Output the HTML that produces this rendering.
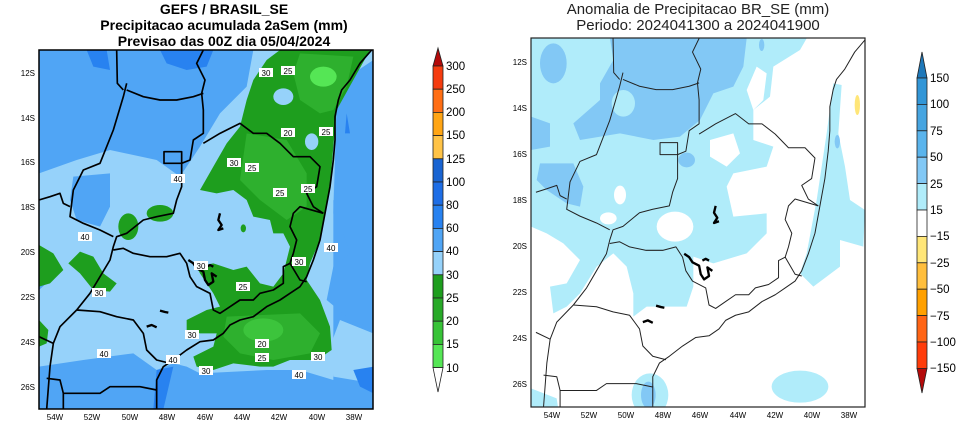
<!DOCTYPE html>
<html><head><meta charset="utf-8"><style>
body{margin:0;background:#fff;width:963px;height:431px;overflow:hidden}
svg{display:block}
text{font-family:"Liberation Sans",sans-serif}
.t{font-size:14px;font-weight:bold;fill:#000}
.tr{font-size:15px;fill:#222}
.tk{font-size:8px;fill:#000}
.cb{font-size:11.5px;fill:#000}
.lb{font-size:8px;fill:#000}
</style></head><body>
<svg width="963" height="431" viewBox="0 0 963 431" xmlns="http://www.w3.org/2000/svg">
<defs>
<clipPath id="cl"><rect x="39" y="50" width="334" height="359"/></clipPath>
<clipPath id="cr"><rect x="531" y="38" width="334" height="369"/></clipPath>
<g id="borders">
<polyline points="1115,150 1080,190 1050,240 1025,270 1015,300 1005,350 1005,420 1000,480 990,560 975,640 960,720 940,780 920,830 900,860 870,880 840,900 800,920 760,950 720,960 690,975 670,1000 640,1020 600,1025 560,1050 520,1080 490,1100 470,1140 470,1228"/>
<polyline points="610,150 590,190 615,240 605,280 610,330 610,400 580,420 570,480 545,490 545,560 530,600 520,640 470,650 430,660 380,700 350,710 340,740 330,780 300,830 270,880 230,930"/>
<polyline points="380,250 370,290 340,390 300,490 250,510 220,570 210,650 250,670 300,690 340,710"/>
<polyline points="117,600 150,590 180,580 190,610 210,620"/>
<polyline points="380,270 430,290 480,300 530,300 580,290 610,280"/>
<polyline points="350,150 352,250 370,270"/>
<polyline points="610,430 660,400 720,370 760,400 800,400 840,430 880,470 930,470 960,500 950,560 920,580 940,620 970,640"/>
<polyline points="970,640 900,620 880,640 870,680 890,720 880,760 870,790 850,800 850,850 820,870 780,880 760,900 720,900 690,920 660,940 640,930 630,880 590,860 570,830 560,790 540,760 500,770 450,770 400,760 370,745 340,750"/>
<polyline points="870,790 900,840 920,845"/>
<polyline points="230,930 300,935 350,950 400,960 430,1000 440,1050 470,1080 510,1090"/>
<polyline points="230,930 180,980 160,1030 150,1100 140,1228"/>
<polyline points="117,1010 160,1030"/>
<polyline points="140,1135 180,1140 190,1180 190,1228"/>
<polyline points="190,1180 300,1180 330,1160 420,1160 470,1170"/>
<polygon points="492,455 545,455 545,490 492,490"/>
</g>
<g id="lakes" fill="none" stroke="#000" stroke-width="7" stroke-linejoin="round">
<polyline points="660,640 655,660 665,675 655,690 670,685"/>
<polyline points="565,780 580,790 590,805 610,815 615,840 625,855 640,845 635,820 650,830"/>
<polyline points="620,800 630,795 640,800"/>
<polyline points="480,932 495,936 505,938"/>
<polyline points="440,980 455,975 470,982"/>
</g>
</defs>

<text class="t" x="224" y="14" text-anchor="middle">GEFS / BRASIL_SE</text>
<text class="t" x="224" y="30" text-anchor="middle">Precipitacao acumulada 2aSem (mm)</text>
<text class="t" x="224" y="46" text-anchor="middle">Previsao das 00Z dia 05/04/2024</text>

<g clip-path="url(#cl)">
<rect x="39" y="50" width="334" height="359" fill="#50a5f5"/>
<g transform="scale(0.33333)">
<path d="M480,150 L640,150 L620,200 L560,210 L500,190Z" fill="#2882f0"/>
<path d="M260,150 L320,150 L330,210 L280,200Z" fill="#2882f0"/>
<path d="M117,520 L230,480 L330,450 L470,480 L540,530 L600,440 L660,340 L740,260 L760,150 L1000,150 L1000,1140 L900,1110 L800,1110 L600,1120 L560,1100 L520,1090 L470,1110 L400,1060 L250,1080 L117,1100 L117,870 L150,840 L117,780Z" fill="#96d2fa"/>
<path d="M220,530 L330,520 L330,620 L300,680 L230,660 L210,600Z" fill="#50a5f5"/>
<path d="M940,150 L1120,150 L1120,1150 L1000,1130 L990,1040 L1020,960 L1120,1000 L1120,600 L1040,620 L1000,600 L1000,300Z" fill="#96d2fa"/>
<path d="M1010,300 L1060,220 L1120,180 L1120,990 L1040,950 L980,900 L1000,800 L1050,760 L1030,700 L1000,640Z" fill="#50a5f5"/>
<path d="M1040,340 L1050,400 L1035,400Z" fill="#2882f0"/>
<path d="M1060,1110 L1120,1100 L1120,1180 L1080,1160Z" fill="#2882f0"/>
<path d="M470,1110 L520,1100 L490,1228 L460,1228Z" fill="#2882f0"/>
<path d="M840,150 L1110,150 L1060,240 L1010,330 L1000,440 L990,560 L975,640 L960,720 L930,790 L920,840 L960,900 L990,980 L995,1050 L950,1080 L870,1080 L820,1100 L780,1100 L700,1090 L640,1110 L590,1100 L580,1070 L640,1040 L650,1000 L600,1000 L560,990 L560,960 L620,930 L660,920 L640,880 L600,820 L590,800 L640,790 L700,810 L740,800 L780,850 L820,860 L850,820 L870,740 L850,700 L820,700 L810,660 L760,650 L740,600 L700,570 L650,580 L600,570 L640,500 L680,430 L720,380 L740,300 L760,240 L800,180Z" fill="#1e9e1e"/>
<path d="M900,160 L1060,170 L1040,260 L1000,330 L960,340 L900,300 L880,220Z" fill="#2eb02e"/>
<ellipse cx="970" cy="230" rx="40" ry="30" fill="#55e655"/>
<path d="M740,400 L860,420 L920,520 L920,620 L860,660 L780,600 L720,540Z" fill="#2eb02e"/>
<path d="M680,950 L900,940 L960,1000 L930,1060 L820,1080 L720,1060 L670,1010Z" fill="#2eb02e"/>
<ellipse cx="790" cy="990" rx="60" ry="35" fill="#3cc43c"/>
<ellipse cx="850" cy="290" rx="30" ry="25" fill="#96d2fa"/>
<ellipse cx="935" cy="425" rx="20" ry="25" fill="#96d2fa"/>
<ellipse cx="760" cy="740" rx="15" ry="30" fill="#96d2fa"/>
<ellipse cx="480" cy="640" rx="40" ry="25" fill="#1e9e1e"/>
<ellipse cx="385" cy="680" rx="30" ry="40" fill="#1e9e1e"/>
<path d="M205,790 L240,755 L280,770 L310,820 L350,850 L330,875 L280,870 L240,820Z" fill="#1e9e1e"/>
<path d="M117,735 L160,760 L190,810 L150,850 L117,860Z" fill="#1e9e1e"/>
<path d="M117,960 L145,990 L140,1030 L117,1040Z" fill="#1e9e1e"/>
<ellipse cx="730" cy="685" rx="8" ry="12" fill="#1e9e1e"/>
<use href="#borders" fill="none" stroke="#000" stroke-width="5" stroke-linejoin="round"/>
<use href="#lakes"/>
</g>
</g>
<rect x="39" y="50" width="334" height="359" fill="none" stroke="#000" stroke-width="1.5"/>
<g class="lb" text-anchor="middle">
<g fill="#fff"><rect x="259" y="68" width="14" height="9"/><rect x="281" y="66" width="14" height="9"/><rect x="281" y="128" width="14" height="9"/><rect x="319" y="127" width="14" height="9"/><rect x="227" y="158" width="14" height="9"/><rect x="245" y="163" width="14" height="9"/><rect x="171" y="174" width="14" height="9"/><rect x="273" y="188" width="14" height="9"/><rect x="301" y="184" width="14" height="9"/><rect x="78" y="232" width="14" height="9"/><rect x="324" y="243" width="14" height="9"/><rect x="194" y="261" width="14" height="9"/><rect x="292" y="257" width="14" height="9"/><rect x="236" y="282" width="14" height="9"/><rect x="92" y="288" width="14" height="9"/><rect x="185" y="330" width="14" height="9"/><rect x="255" y="339" width="14" height="9"/><rect x="97" y="349" width="14" height="9"/><rect x="255" y="353" width="14" height="9"/><rect x="166" y="355" width="14" height="9"/><rect x="311" y="352" width="14" height="9"/><rect x="199" y="366" width="14" height="9"/><rect x="292" y="370" width="14" height="9"/></g>
<text x="266" y="76">30</text><text x="288" y="74">25</text><text x="288" y="136">20</text><text x="326" y="135">25</text><text x="234" y="166">30</text><text x="252" y="171">25</text><text x="178" y="182">40</text><text x="280" y="196">25</text><text x="308" y="192">25</text><text x="85" y="240">40</text><text x="331" y="251">40</text><text x="201" y="269">30</text><text x="299" y="265">30</text><text x="243" y="290">25</text><text x="99" y="296">30</text><text x="192" y="338">30</text><text x="262" y="347">20</text><text x="104" y="357">40</text><text x="262" y="361">25</text><text x="173" y="363">40</text><text x="318" y="360">30</text><text x="206" y="374">30</text><text x="299" y="378">40</text>
</g>
<g class="tk" text-anchor="end">
<text x="35" y="76">12S</text><text x="35" y="121">14S</text><text x="35" y="165">16S</text><text x="35" y="210">18S</text><text x="35" y="255">20S</text><text x="35" y="300">22S</text><text x="35" y="345">24S</text><text x="35" y="390">26S</text>
</g>
<g class="tk" text-anchor="middle">
<text x="55" y="420">54W</text><text x="92" y="420">52W</text><text x="130" y="420">50W</text><text x="167" y="420">48W</text><text x="205" y="420">46W</text><text x="242" y="420">44W</text><text x="279" y="420">42W</text><text x="317" y="420">40W</text><text x="354" y="420">38W</text>
</g>

<g stroke="#222" stroke-width="0.8">
<polygon points="433,66 438,48 443,66" fill="#b40a0a"/>
<rect x="433" y="66" width="10" height="23.2" fill="#f53c0f"/>
<rect x="433" y="89.2" width="10" height="23.2" fill="#ff6e14"/>
<rect x="433" y="112.4" width="10" height="23.2" fill="#ffa514"/>
<rect x="433" y="135.6" width="10" height="23.2" fill="#ffc346"/>
<rect x="433" y="158.8" width="10" height="23.2" fill="#1964d2"/>
<rect x="433" y="182" width="10" height="23.2" fill="#1e6ee6"/>
<rect x="433" y="205.2" width="10" height="23.2" fill="#2882f0"/>
<rect x="433" y="228.4" width="10" height="23.2" fill="#50a5f5"/>
<rect x="433" y="251.6" width="10" height="23.2" fill="#96d2fa"/>
<rect x="433" y="274.8" width="10" height="23.2" fill="#1e9e1e"/>
<rect x="433" y="298" width="10" height="23.2" fill="#28aa28"/>
<rect x="433" y="321.2" width="10" height="23.2" fill="#37c337"/>
<rect x="433" y="344.4" width="10" height="23.2" fill="#55e655"/>
<polygon points="433,367.6 438,392 443,367.6" fill="#fff"/>
</g>
<g class="cb">
<text x="446" y="70">300</text><text x="446" y="93">250</text><text x="446" y="116">200</text><text x="446" y="139">150</text><text x="446" y="163">125</text><text x="446" y="186">100</text><text x="446" y="209">80</text><text x="446" y="232">60</text><text x="446" y="255">40</text><text x="446" y="279">30</text><text x="446" y="302">25</text><text x="446" y="325">20</text><text x="446" y="348">15</text><text x="446" y="372">10</text>
</g>

<text class="tr" x="698" y="14" text-anchor="middle">Anomalia de Precipitacao BR_SE (mm)</text>
<text class="tr" x="698" y="30" text-anchor="middle">Periodo: 2024041300 a 2024041900</text>

<g clip-path="url(#cr)">
<rect x="531" y="38" width="334" height="369" fill="#fff"/>
<g transform="translate(480,0) scale(0.33333)">
<path d="M153,115 L980,115 L960,150 L880,200 L870,290 L820,330 L820,420 L880,440 L860,500 L760,520 L740,560 L760,650 L860,640 L860,700 L800,760 L700,790 L640,770 L640,860 L620,920 L500,920 L460,950 L460,880 L440,800 L400,760 L350,800 L300,880 L260,920 L220,940 L210,860 L260,850 L300,780 L250,730 L200,700 L153,680Z" fill="#b0ecfa"/>
<path d="M690,420 L760,400 L780,460 L740,500 L690,470Z" fill="#fff"/>
<path d="M800,270 L830,200 L860,220 L850,300 L820,330Z" fill="#fff"/>
<ellipse cx="585" cy="680" rx="55" ry="45" fill="#fff"/>
<ellipse cx="420" cy="585" rx="18" ry="28" fill="#fff"/>
<ellipse cx="385" cy="655" rx="25" ry="18" fill="#fff"/>
<path d="M390,115 L800,115 L790,200 L760,260 L700,280 L660,360 L600,410 L520,420 L420,400 L300,420 L280,370 L360,300 L360,250 L400,180Z" fill="#82c8f5"/>
<ellipse cx="430" cy="310" rx="35" ry="40" fill="#b0ecfa"/>
<ellipse cx="220" cy="190" rx="40" ry="60" fill="#82c8f5"/>
<path d="M153,350 L210,370 L210,440 L153,450Z" fill="#82c8f5"/>
<path d="M180,490 L280,490 L310,560 L300,620 L260,610 L200,570 L170,540Z" fill="#82c8f5"/>
<ellipse cx="620" cy="480" rx="25" ry="22" fill="#82c8f5"/>
<ellipse cx="845" cy="135" rx="8" ry="18" fill="#82c8f5"/>
<path d="M1060,250 L1085,255 L1075,400 L1095,500 L1110,600 L1155,630 L1150,740 L1080,720 L1080,800 L1000,860 L960,820 L980,760 L1010,600 L1040,400Z" fill="#b0ecfa"/>
<ellipse cx="1072" cy="425" rx="8" ry="20" fill="#82c8f5"/>
<ellipse cx="960" cy="1160" rx="85" ry="48" fill="#b0ecfa"/>
<ellipse cx="510" cy="1185" rx="55" ry="65" fill="#b0ecfa"/>
<ellipse cx="505" cy="1185" rx="22" ry="40" fill="#82c8f5"/>
<path d="M153,1165 L230,1195 L235,1228 L153,1228Z" fill="#b0ecfa"/>
<ellipse cx="1132" cy="315" rx="8" ry="30" fill="#ffe678"/>
<g transform="translate(51.6,-38.6) scale(0.993,1.0254)">
<use href="#borders" fill="none" stroke="#222" stroke-width="3" stroke-linejoin="round"/>
<use href="#lakes"/>
</g>
</g>
</g>
<rect x="531" y="38" width="334" height="369" fill="none" stroke="#222" stroke-width="1.2"/>
<g class="tk" text-anchor="end">
<text x="527" y="65">12S</text><text x="527" y="111">14S</text><text x="527" y="157">16S</text><text x="527" y="203">18S</text><text x="527" y="249">20S</text><text x="527" y="295">22S</text><text x="527" y="341">24S</text><text x="527" y="387">26S</text>
</g>
<g class="tk" text-anchor="middle">
<text x="552" y="418">54W</text><text x="589" y="418">52W</text><text x="626" y="418">50W</text><text x="663" y="418">48W</text><text x="700" y="418">46W</text><text x="738" y="418">44W</text><text x="775" y="418">42W</text><text x="812" y="418">40W</text><text x="849" y="418">38W</text>
</g>

<g stroke="#222" stroke-width="0.8">
<polygon points="917,78 922,52 927,78" fill="#1e78b9"/>
<rect x="917" y="78" width="10" height="26.4" fill="#3296d7"/>
<rect x="917" y="104.4" width="10" height="26.4" fill="#46a5e1"/>
<rect x="917" y="130.8" width="10" height="26.4" fill="#5ab4ec"/>
<rect x="917" y="157.2" width="10" height="26.4" fill="#82c8f5"/>
<rect x="917" y="183.6" width="10" height="26.4" fill="#b0ecfa"/>
<rect x="917" y="210" width="10" height="26.4" fill="#fff"/>
<rect x="917" y="236.4" width="10" height="26.4" fill="#ffe678"/>
<rect x="917" y="262.8" width="10" height="26.4" fill="#ffbe3c"/>
<rect x="917" y="289.2" width="10" height="26.4" fill="#ffa000"/>
<rect x="917" y="315.6" width="10" height="26.4" fill="#ff6414"/>
<rect x="917" y="342" width="10" height="26.4" fill="#ff3c0a"/>
<polygon points="917,368.4 922,393 927,368.4" fill="#b40a0a"/>
</g>
<g class="cb">
<text x="930" y="82">150</text><text x="930" y="108">100</text><text x="930" y="135">75</text><text x="930" y="161">50</text><text x="930" y="188">25</text><text x="930" y="214">15</text><text x="930" y="240">−15</text><text x="930" y="267">−25</text><text x="930" y="293">−50</text><text x="930" y="320">−75</text><text x="930" y="346">−100</text><text x="930" y="372">−150</text>
</g>
</svg>
</body></html>
